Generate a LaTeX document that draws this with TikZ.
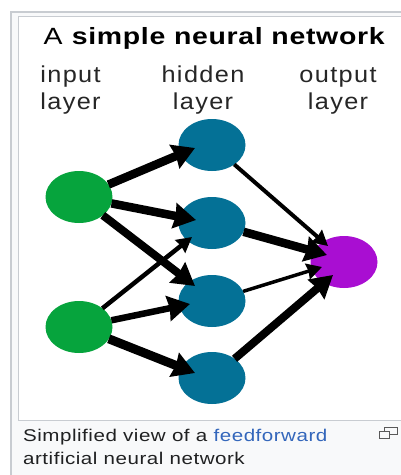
\documentclass[tikz,border=0pt]{standalone}
\usepackage{fontspec}
\setmainfont{Liberation Sans}
\newfontfamily\titlefont[LetterSpace=3,FakeStretch=1.21]{Liberation Sans}
\newfontfamily\layerfont[LetterSpace=6,FakeStretch=1.1]{Liberation Sans}
\newfontfamily\capfont[LetterSpace=3,FakeStretch=1.21]{Liberation Sans}
\usetikzlibrary{arrows.meta,shapes.geometric,calc}
\definecolor{ingreen}{HTML}{06A43D}
\definecolor{hidteal}{HTML}{047196}
\definecolor{outpurple}{HTML}{A90ED2}
\definecolor{framegray}{HTML}{C8CCD1}
\definecolor{panelbg}{HTML}{F8F9FA}
\definecolor{captext}{HTML}{202122}
\definecolor{linkblue}{HTML}{3366BB}
\tikzset{
  x=1pt,y=-1pt,
  neuron/.style={ellipse,minimum width=67pt,minimum height=52pt,inner sep=0pt,outer sep=0pt},
  inneuron/.style={neuron,fill=ingreen},
  hidneuron/.style={neuron,fill=hidteal},
  outneuron/.style={neuron,fill=outpurple},
  conn/.style={-{Stealth[inset=1.5pt,length=22pt,width=25pt]},line width=#1},
  connthin/.style={-{Stealth[inset=1pt,length=15pt,width=16pt]},line width=#1},
  layerlabel/.style={align=center,font=\fontsize{23}{27}\selectfont\layerfont,text=black!85,inner sep=0pt},
  captionline/.style={anchor=base west,font=\fontsize{17}{20}\selectfont\capfont,text=captext,inner sep=0pt},
}
\begin{document}
\begin{tikzpicture}
\useasboundingbox (0,0) rectangle (400,475);
\fill[white] (0,0) rectangle (400,475);
\fill[panelbg,draw=framegray,line width=1.5pt] (11,12) rectangle (410,490);
\fill[white,draw=framegray,line width=1pt] (18,16) rectangle (410,420);
\node[inner sep=0pt,anchor=base] (title) at (214.5,44) {\fontsize{23.5}{30}\selectfont\titlefont A \textbf{simple neural network}};
\node[layerlabel] (linput) at (70.5,90.5) {input\\layer};
\node[layerlabel] (lhidden) at (203,90.5) {hidden\\layer};
\node[layerlabel] (loutput) at (338,90.5) {output\\layer};
\node[inneuron] (g1) at (79,197) {};
\node[inneuron] (g2) at (79,327) {};
\node[hidneuron] (h1) at (212,145) {};
\node[hidneuron] (h2) at (212,223) {};
\node[hidneuron] (h3) at (212,301) {};
\node[hidneuron] (h4) at (212,378) {};
\node[outneuron] (o) at (344,262) {};
\draw[conn=8.5pt] (g1) -- ($(h1)+(-17,3)$);
\draw[conn=8.5pt] (g1) -- ($(h2)+(-16,-3)$);
\draw[conn=8pt] (g1) -- ($(h3)+(-17,-15)$);
\draw[connthin=4.5pt] (g2) -- ($(h2)+(-20,14)$);
\draw[conn=6.5pt] (g2) -- ($(h3)+(-22,3)$);
\draw[conn=9pt] (g2) -- ($(h4)+(-17,-5)$);
\draw[connthin=4pt] (h1) -- ($(o)+(-16,-16)$);
\draw[conn=8.5pt] (h2) -- ($(o)+(-17,-7)$);
\draw[connthin=3.5pt] (h3) -- ($(o)+(-22,5)$);
\draw[conn=8pt] (h4) -- ($(o)+(-11,13)$);
\node[captionline] (cap1) at (23,441) {Simplified view of a \textcolor{linkblue}{feedforward}};
\node[captionline] (cap2) at (23,464) {artificial neural network};
\draw[black!65,line width=1pt,fill=panelbg] (384,427.5) rectangle (397,434);
\draw[black!65,line width=1pt,fill=panelbg] (379,431) rectangle (389,438);
\end{tikzpicture}
\end{document}
